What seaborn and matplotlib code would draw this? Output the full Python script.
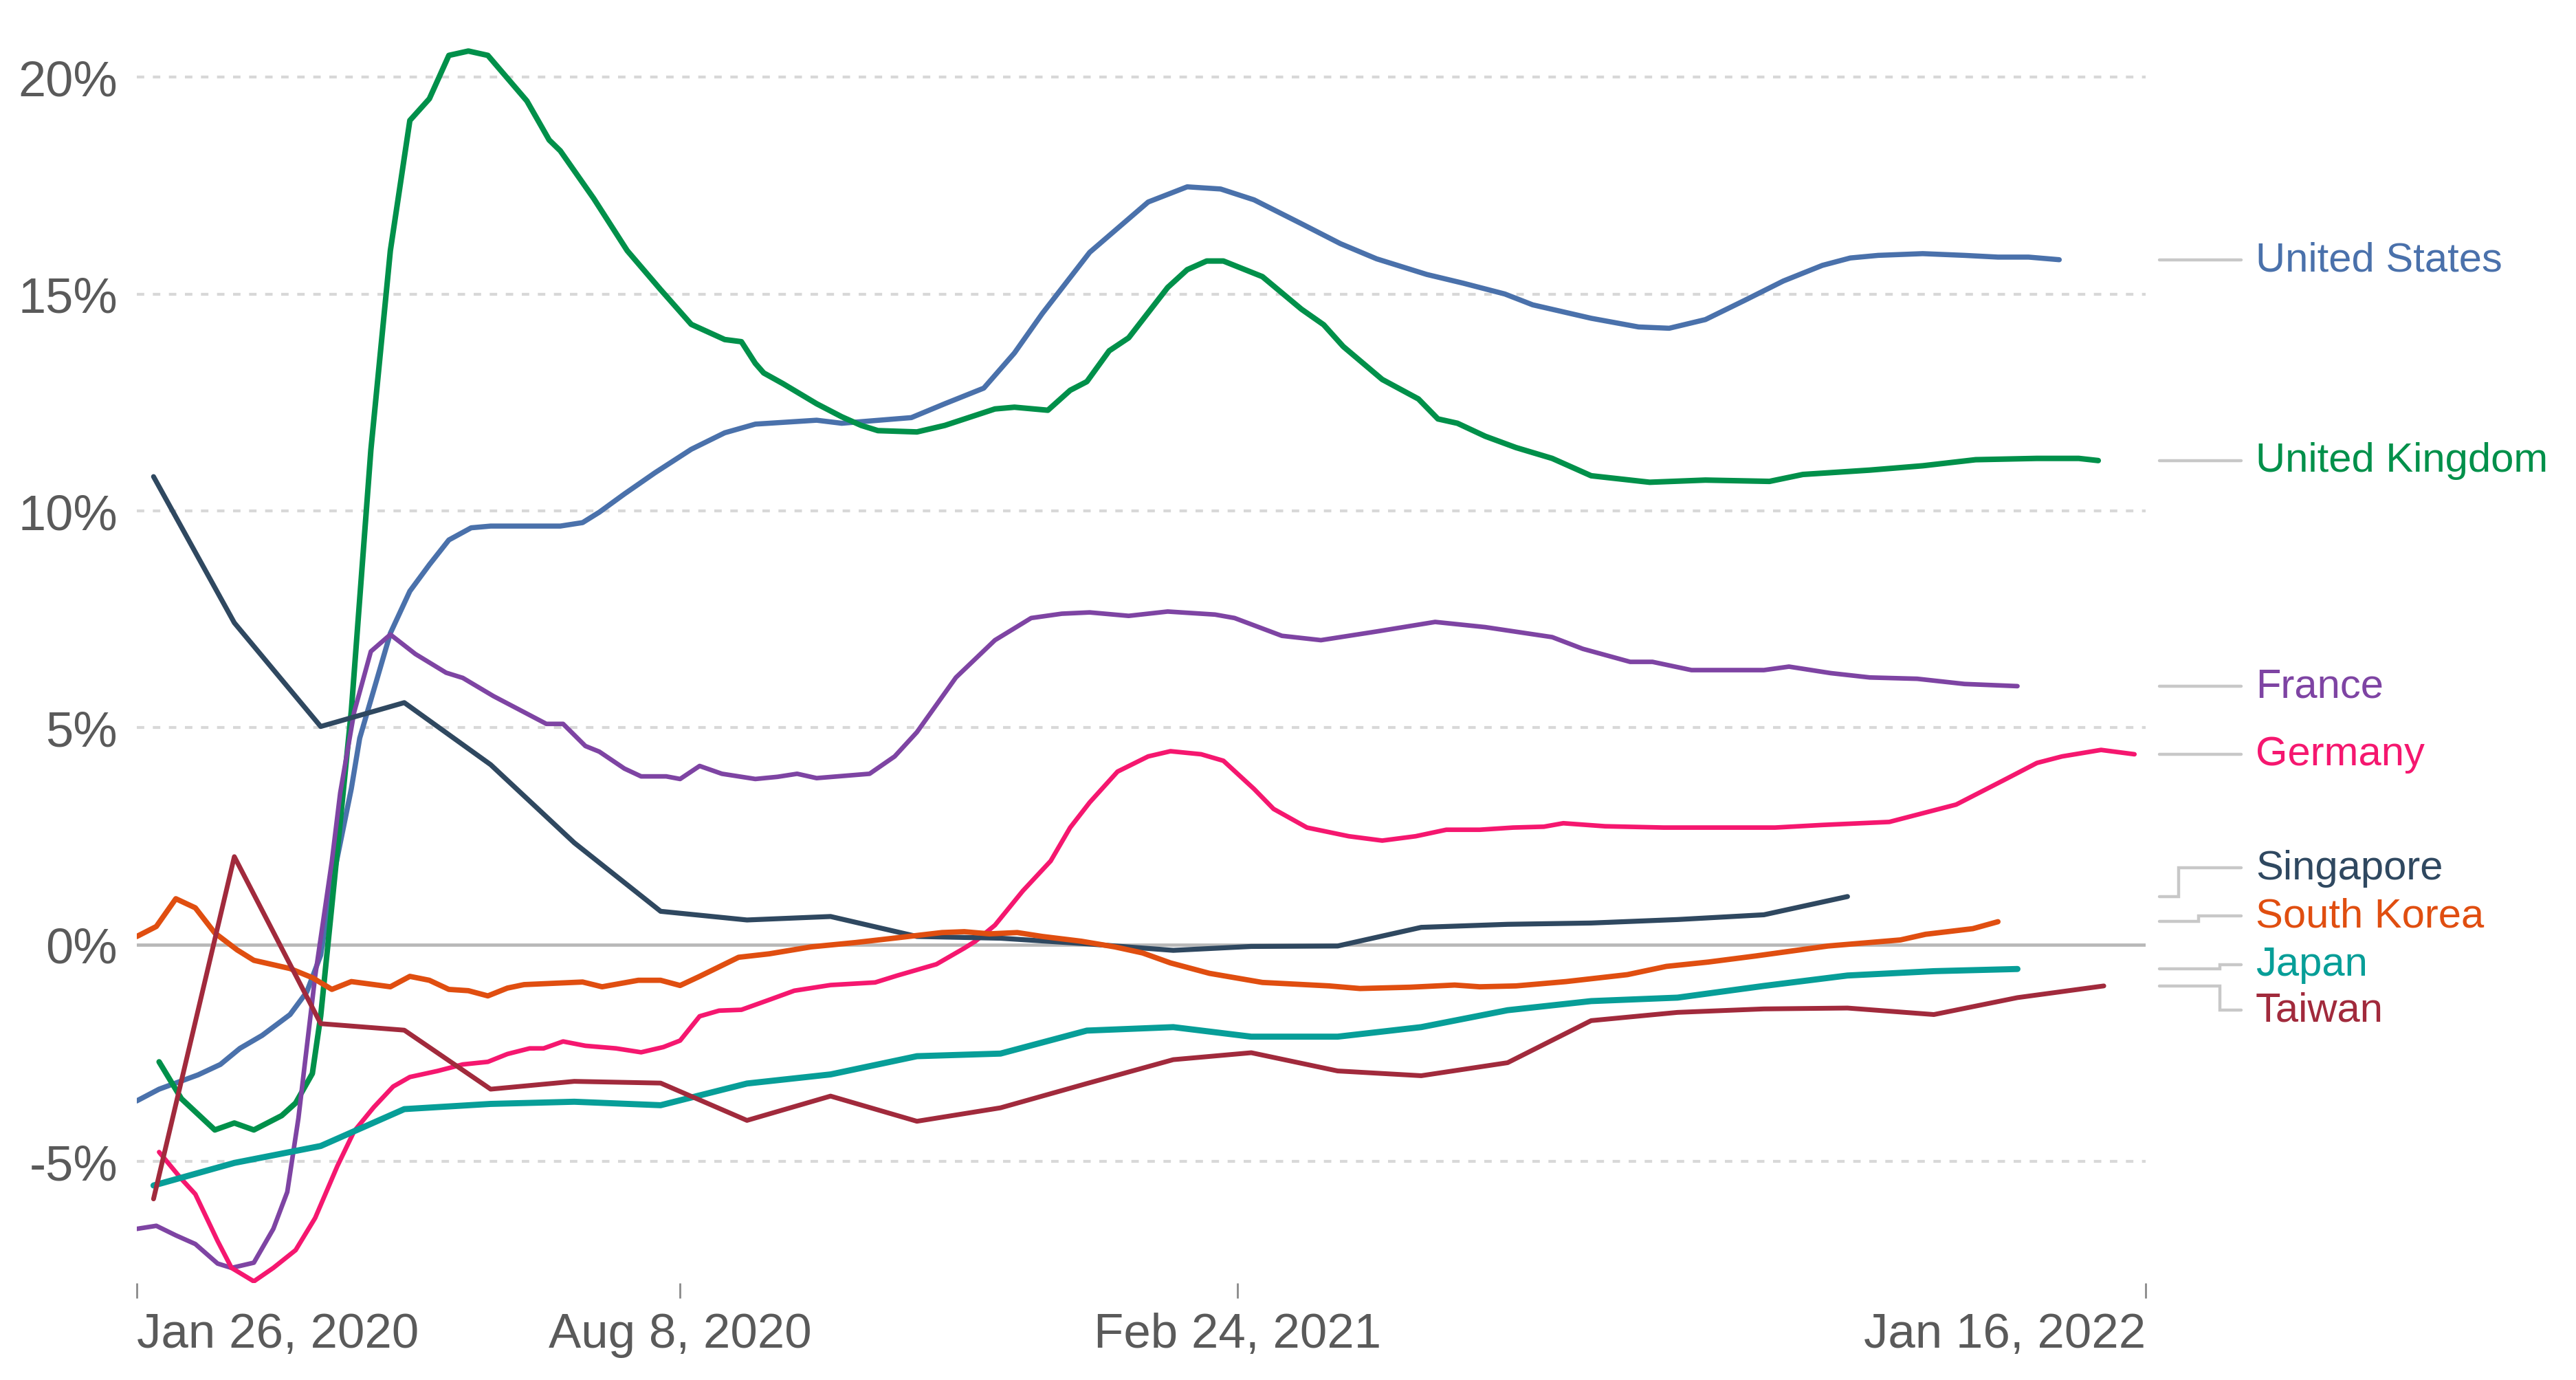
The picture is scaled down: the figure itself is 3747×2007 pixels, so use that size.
import pandas as pd
import matplotlib
matplotlib.use('Agg')
import matplotlib.pyplot as plt
import seaborn as sns

start = pd.Timestamp('2020-01-26')
end = pd.Timestamp('2022-01-16')

# Smoothed series, x = days since Jan 26, 2020, y = change in %
us_day = [0, 8, 22, 30, 37, 45, 55, 61, 66, 70, 77, 80, 91, 98, 105, 112, 120, 127, 139, 152,
          160, 166, 175, 186, 199, 211, 222, 244, 253, 278, 290, 304, 315, 325, 342, 363, 377, 389, 401, 418,
          432, 445, 463, 476, 491, 501, 522, 539, 550, 563, 577, 591, 605, 615, 625, 641, 656, 668, 679, 690]
us_val = [-3.6, -3.33, -3.0, -2.76, -2.39, -2.09, -1.61, -1.09, -0.24, 1.39, 3.6, 4.76, 7.18, 8.15, 8.76, 9.33, 9.61, 9.65, 9.65, 9.65,
          9.73, 9.97, 10.39, 10.88, 11.42, 11.8, 12.0, 12.09, 12.02, 12.15, 12.47, 12.83, 13.64, 14.55, 15.96, 17.12, 17.47, 17.42, 17.17, 16.62,
          16.16, 15.81, 15.45, 15.25, 15.0, 14.75, 14.44, 14.24, 14.21, 14.41, 14.85, 15.3, 15.66, 15.83, 15.89, 15.93, 15.89, 15.85, 15.85, 15.79]

uk_day = [8, 16, 28, 35, 42, 52, 57, 63, 66, 70, 77, 84, 91, 98, 105, 112, 119, 126, 140, 148,
          152, 164, 176, 188, 199, 211, 217, 222, 225, 232, 244, 253, 260, 266, 280, 290, 308, 315, 327, 335,
          341, 349, 356, 370, 377, 384, 390, 404, 418, 426, 433, 447, 460, 467, 474, 484, 495, 508, 522, 543,
          563, 586, 598, 622, 641, 660, 682, 697, 704]
uk_val = [-2.7, -3.55, -4.27, -4.11, -4.27, -3.94, -3.65, -2.97, -1.64, 0.9, 5.4, 11.4, 16.0, 19.0, 19.5, 20.5, 20.6, 20.5, 19.45, 18.55,
          18.3, 17.2, 16.0, 15.1, 14.3, 13.95, 13.9, 13.4, 13.18, 12.93, 12.47, 12.17, 11.97, 11.85, 11.82, 11.97, 12.35, 12.39, 12.32, 12.78,
          12.98, 13.69, 13.99, 15.15, 15.56, 15.76, 15.76, 15.4, 14.65, 14.29, 13.79, 13.03, 12.58, 12.12, 12.02, 11.72, 11.46, 11.21, 10.81, 10.66,
          10.71, 10.68, 10.84, 10.94, 11.04, 11.18, 11.21, 11.21, 11.16]

fr_day = [0, 7, 14, 21, 29, 34, 42, 49, 54, 58, 64, 70, 73, 78, 84, 91, 100, 111, 117, 128,
          139, 147, 153, 161, 166, 175, 181, 190, 195, 202, 210, 222, 230, 237, 244, 263, 272, 280, 294, 308,
          321, 332, 342, 356, 370, 387, 394, 411, 425, 445, 466, 484, 508, 519, 536, 544, 558, 584, 593, 608,
          622, 639, 656, 675]
fr_val = [-6.55, -6.48, -6.7, -6.9, -7.35, -7.45, -7.33, -6.55, -5.7, -4.0, -0.73, 1.92, 3.5, 5.36, 6.76, 7.15, 6.7, 6.27, 6.15, 5.73,
          5.36, 5.09, 5.09, 4.58, 4.45, 4.06, 3.88, 3.88, 3.82, 4.12, 3.94, 3.82, 3.87, 3.94, 3.84, 3.94, 4.34, 4.9, 6.16, 7.02,
          7.53, 7.63, 7.66, 7.58, 7.68, 7.61, 7.53, 7.12, 7.02, 7.22, 7.44, 7.32, 7.09, 6.82, 6.52, 6.52, 6.33, 6.33, 6.41, 6.26,
          6.16, 6.13, 6.01, 5.96]

de_day = [8, 16, 21, 29, 34, 42, 49, 57, 64, 72, 78, 85, 92, 98, 108, 117, 126, 133, 141, 146,
          153, 161, 172, 181, 189, 195, 202, 209, 217, 227, 236, 249, 265, 273, 287, 297, 301, 308, 318, 328,
          335, 342, 352, 363, 371, 382, 390, 401, 408, 420, 435, 447, 459, 470, 482, 494, 505, 512, 527, 548,
          588, 605, 629, 653, 670, 682, 691, 705, 717]
de_val = [-4.78, -5.4, -5.75, -6.83, -7.45, -7.76, -7.45, -7.04, -6.3, -5.1, -4.3, -3.75, -3.27, -3.05, -2.91, -2.76, -2.70, -2.52, -2.39, -2.39,
          -2.23, -2.33, -2.39, -2.48, -2.36, -2.21, -1.65, -1.52, -1.5, -1.27, -1.06, -0.93, -0.87, -0.71, -0.45, -0.08, 0.08, 0.45, 1.24, 1.93,
          2.70, 3.28, 3.99, 4.34, 4.46, 4.39, 4.24, 3.59, 3.13, 2.70, 2.5, 2.4, 2.5, 2.65, 2.65, 2.7, 2.72, 2.8, 2.73, 2.70,
          2.70, 2.76, 2.83, 3.23, 3.79, 4.19, 4.34, 4.49, 4.39]

kr_day = [0, 7, 14, 21, 28, 36, 42, 55, 63, 70, 77, 91, 98, 105, 112, 119, 126, 133, 139, 160,
          167, 180, 188, 195, 202, 216, 227, 242, 258, 273, 289, 297, 306, 316, 325, 339, 351, 361, 371, 385,
          404, 428, 439, 457, 473, 482, 495, 513, 535, 549, 564, 581, 607, 633, 642, 659, 668]
kr_val = [0.19, 0.42, 1.06, 0.85, 0.27, -0.12, -0.36, -0.55, -0.76, -1.03, -0.85, -0.97, -0.73, -0.82, -1.03, -1.06, -1.18, -1.0, -0.92, -0.86,
          -0.97, -0.82, -0.82, -0.94, -0.73, -0.29, -0.21, -0.05, 0.05, 0.16, 0.28, 0.30, 0.25, 0.28, 0.19, 0.08, -0.05, -0.19, -0.42, -0.66,
          -0.87, -0.95, -1.01, -0.98, -0.93, -0.97, -0.95, -0.85, -0.69, -0.5, -0.4, -0.26, -0.03, 0.11, 0.24, 0.37, 0.53]

# Monthly series (first of each month from Feb 2020)
sg_val = [10.79, 7.42, 5.03, 5.58, 4.15, 2.35, 0.77, 0.57, 0.65, 0.19, 0.15,
          0.02, -0.13, -0.04, -0.03, 0.4, 0.47, 0.5, 0.58, 0.69, 1.11]
jp_val = [-5.55, -5.03, -4.64, -3.79, -3.67, -3.62, -3.70, -3.20, -2.99, -2.57, -2.51,
          -1.98, -1.90, -2.12, -2.12, -1.9, -1.51, -1.30, -1.22, -0.95, -0.71, -0.61, -0.56]
tw_val = [-5.86, 2.03, -1.82, -1.97, -3.33, -3.15, -3.19, -4.05, -3.49, -4.07, -3.76,
          -3.20, -2.65, -2.49, -2.91, -3.02, -2.72, -1.75, -1.56, -1.48, -1.46, -1.61, -1.22, -0.95]
months = pd.date_range('2020-02-01', '2022-01-01', freq='MS')

countries = ['United States', 'United Kingdom', 'France', 'Germany',
             'Singapore', 'South Korea', 'Japan', 'Taiwan']
colors = {'United States': '#4a71ab', 'United Kingdom': '#00904a', 'France': '#7e44a3',
          'Germany': '#f5176f', 'Singapore': '#2f4860', 'South Korea': '#e04e10',
          'Japan': '#079e98', 'Taiwan': '#a12a3c'}
widths = {'United States': 5.4, 'United Kingdom': 5.8, 'France': 4.8, 'Germany': 4.8,
          'Singapore': 5.2, 'South Korea': 5.6, 'Japan': 6.4, 'Taiwan': 5.0}

frames = []
for name, d, v in [('United States', us_day, us_val), ('United Kingdom', uk_day, uk_val),
                   ('France', fr_day, fr_val), ('Germany', de_day, de_val),
                   ('South Korea', kr_day, kr_val)]:
    frames.append(pd.DataFrame({'date': start + pd.to_timedelta(d, unit='D'), 'value': v, 'country': name}))
for name, v in [('Singapore', sg_val), ('Japan', jp_val), ('Taiwan', tw_val)]:
    frames.append(pd.DataFrame({'date': months[:len(v)], 'value': v, 'country': name}))
df = pd.concat(frames, ignore_index=True)

sns.set_style('white')
plt.rcParams['font.family'] = ['Liberation Sans', 'DejaVu Sans']

fig = plt.figure(figsize=(37.48, 20.08), dpi=100)
ax = fig.add_axes([0.0531, 0.0702, 0.7796, 0.9049])

for g in [-5, 5, 10, 15, 20]:
    ax.axhline(g, color='#d8d8d8', lw=3.0, ls=(0, (2.6, 3.0)), zorder=0)
ax.axhline(0, color='#b8b8b8', lw=3.4, zorder=0.5)

sns.lineplot(data=df, x='date', y='value', hue='country', size='country',
             hue_order=countries, size_order=countries, palette=colors, sizes=widths,
             estimator=None, sort=False, legend=False, ax=ax)

ax.set_xlim(start, end)
ax.set_ylim(-7.8, 21.0)
for s in ax.spines.values():
    s.set_visible(False)

ax.set_yticks([-5, 0, 5, 10, 15, 20])
ax.set_yticklabels(['-5%', '0%', '5%', '10%', '15%', '20%'])
ax.tick_params(axis='y', left=False, length=0, pad=20, labelsize=52, labelcolor='#5a5a5a')

tick_dates = pd.to_datetime(['2020-01-26', '2020-08-08', '2021-02-24', '2022-01-16'])
tick_labels = ['Jan 26, 2020', 'Aug 8, 2020', 'Feb 24, 2021', 'Jan 16, 2022']
ax.set_xticks(tick_dates)
ax.set_xticklabels(tick_labels)
ax.tick_params(axis='x', bottom=True, direction='out', length=16, width=2.0, color='#8a8a8a',
               pad=14, labelsize=51, labelcolor='#5a5a5a')
for lab, ha in zip(ax.get_xticklabels(), ['left', 'center', 'center', 'right']):
    lab.set_ha(ha)
ax.set_xlabel('')
ax.set_ylabel('')

# Direct labels with connector lines on the right
last = df.sort_values('date').groupby('country')['value'].last()
label_y = {'United States': last['United States'], 'United Kingdom': last['United Kingdom'],
           'France': last['France'], 'Germany': last['Germany'],
           'Singapore': 1.77, 'South Korea': 0.67, 'Japan': -0.46, 'Taiwan': -1.51}
elbow_x = {'United States': 1.02, 'United Kingdom': 1.02, 'France': 1.02, 'Germany': 1.02,
           'Singapore': 1.0164, 'South Korea': 1.0263, 'Japan': 1.037, 'Taiwan': 1.037}
trans = ax.get_yaxis_transform()
for name in countries:
    y0 = last[name]
    y1 = label_y[name]
    xe = elbow_x[name]
    ax.plot([1.0068, xe, xe, 1.0476], [y0, y0, y1, y1], transform=trans,
            color='#c8c8c8', lw=3.2, clip_on=False, solid_joinstyle='miter')
    ax.text(1.0548, y1, name, transform=trans, color=colors[name], fontsize=43,
            va='center', ha='left')

fig.savefig('out.png', dpi=100)
